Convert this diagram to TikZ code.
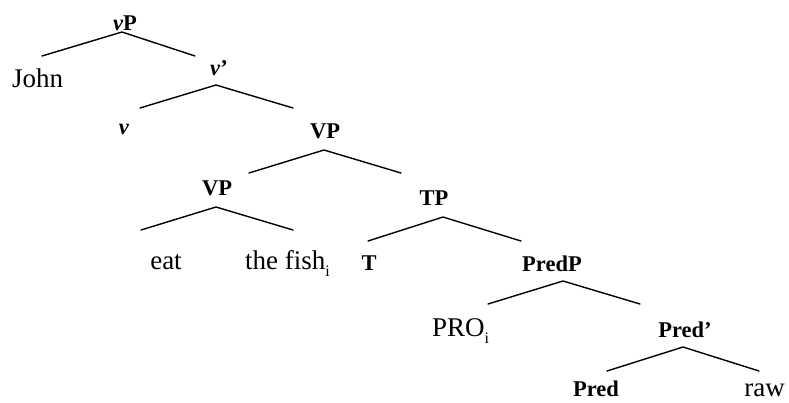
\documentclass[tikz,border=0pt]{standalone}
\usepackage{fontspec}
\setmainfont{Liberation Serif}
\newcommand{\subi}{\raisebox{-7pt}{\fontsize{16}{16}\selectfont i}}
\tikzset{
  lab/.style={inner sep=0pt, anchor=base, font=\fontsize{27}{27}\selectfont},
  cat/.style={inner sep=0pt, anchor=base, font=\fontsize{22.5}{22.5}\selectfont\bfseries},
  branch/.style={line width=1.4pt, line cap=round}
}
\begin{document}
\begin{tikzpicture}[x=1pt,y=-1pt]
\useasboundingbox (0,0) rectangle (789,402);
% labels
\node[cat] (vP) at (125,30) {\textit{v}P};
\node[lab, anchor=base west] (John) at (12,87) {John};
\node[cat] (vbar) at (219,75) {\textit{v}'};
\node[cat] (v) at (124,134) {\textit{v}};
\node[cat] (VPtop) at (325,138) {VP};
\node[cat] (VPlow) at (217,195) {VP};
\node[cat] (TP) at (434,205) {TP};
\node[lab] (eat) at (166,269) {eat};
\node[lab, anchor=base west] (fish) at (245,269) {the fish\subi};
\node[cat] (T) at (369,270) {T};
\node[cat] (PredP) at (552,271) {PredP};
\node[lab, anchor=base west] (PRO) at (432,336) {PRO\subi};
\node[cat] (Predbar) at (685,337) {Pred'};
\node[cat] (Pred) at (596,396) {Pred};
\node[lab, anchor=base east] (raw) at (785,396) {raw};
% branch points
\coordinate (a1) at (122,32);  \coordinate (l1) at (42,56);   \coordinate (r1) at (195,56);
\coordinate (a2) at (216,85);  \coordinate (l2) at (140,108); \coordinate (r2) at (293,108);
\coordinate (a3) at (324,150); \coordinate (l3) at (249,173); \coordinate (r3) at (401,173);
\coordinate (a4) at (216,207); \coordinate (l4) at (141,230); \coordinate (r4) at (293,230);
\coordinate (a5) at (443,217); \coordinate (l5) at (368,241); \coordinate (r5) at (521,241);
\coordinate (a6) at (563,281); \coordinate (l6) at (488,304); \coordinate (r6) at (640,304);
\coordinate (a7) at (683,347); \coordinate (l7) at (607,371); \coordinate (r7) at (759,371);
\foreach \i in {1,...,7} {
  \draw[branch] (l\i) -- (a\i) -- (r\i);
}
\end{tikzpicture}
\end{document}
